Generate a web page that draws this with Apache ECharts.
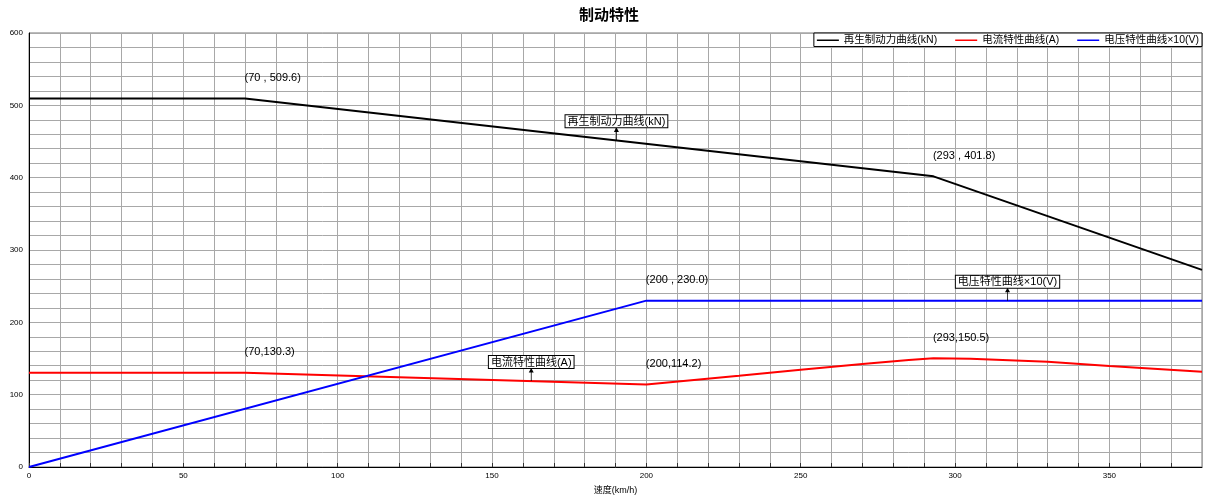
<!DOCTYPE html>
<html><head><meta charset="utf-8">
<script src="https://cdn.jsdelivr.net/npm/echarts@6/dist/echarts.min.js"></script>
<style>html,body{margin:0;padding:0;background:#fff;overflow:hidden}#c{width:1207px;height:499px}</style>
</head><body><div id="c"></div>
<script>
const FONT = '"Liberation Sans", Arial, "Noto Sans CJK SC", sans-serif';
const seriesNames = ['再生制动力曲线(kN)', '电流特性曲线(A)', '电压特性曲线×10(V)'];
const seriesColors = ['#000000', '#ff0000', '#0000ff'];
const forceSpeed = [0, 70, 293, 380];
const forceValue = [509.6, 509.6, 401.8, 272.5];
const currentSpeed = [0, 70, 200, 230, 250, 270, 285, 293, 305, 330, 350, 380];
const currentValue = [130.3, 130.3, 114.2, 126, 134.5, 142.5, 148, 150.5, 149.6, 145.5, 139.6, 131.8];
const voltageSpeed = [0, 200, 380];
const voltageValue = [0, 230, 230];
// point annotations: series index, x, y, text
const annoSeries = [0, 0, 1, 1, 1, 2];
const annoX = [70, 293, 70, 200, 293, 200];
const annoY = [509.6, 401.8, 130.3, 114.2, 150.5, 230.0];
const annoText = ['(70 , 509.6)', '(293 , 401.8)', '(70,130.3)', '(200,114.2)', '(293,150.5)', '(200 , 230.0)'];
// callouts with arrows (anchored on each curve)
const calloutX = [190.3, 162.7, 317];
const calloutY = [451.6, 118.8, 230];
const xTickLabels = [0, 50, 100, 150, 200, 250, 300, 350];
const yTickLabels = [0, 100, 200, 300, 400, 500, 600];

const xs = [forceSpeed, currentSpeed, voltageSpeed];
const ys = [forceValue, currentValue, voltageValue];

function markPointsFor(si) {
  const d = [];
  annoSeries.forEach((s, i) => {
    if (s !== si) return;
    d.push({
      coord: [annoX[i], annoY[i]], symbol: 'circle', symbolSize: 1,
      itemStyle: { color: 'rgba(0,0,0,0)' },
      label: { show: true, formatter: annoText[i], position: [0, -20], align: 'left', verticalAlign: 'middle',
        color: '#000', fontSize: 11, fontFamily: FONT }
    });
  });
  d.push({
    coord: [calloutX[si], calloutY[si]],
    symbol: 'path://M5,0 L9,7 L5.6,7 L5.6,20 L4.4,20 L4.4,7 L1,7 Z',
    symbolSize: [5, 13], symbolOffset: [0, -6.5], symbolKeepAspect: false,
    itemStyle: { color: '#000' },
    label: { show: true, formatter: seriesNames[si], position: 'top', distance: 0,
      color: '#000', fontSize: 11, fontFamily: FONT, backgroundColor: '#fff',
      borderColor: '#000', borderWidth: 1, padding: [1, 2, 0, 2] }
  });
  return { silent: true, animation: false, data: d };
}

const chart = echarts.init(document.getElementById('c'), null, { renderer: 'canvas', width: 1207, height: 499 });
chart.setOption({
  animation: false,
  backgroundColor: '#fff',
  title: { text: '制动特性', left: 574, top: 3,
    textStyle: { fontSize: 15, fontWeight: 'bold', color: '#000', fontFamily: FONT } },
  legend: {
    data: seriesNames, right: 5, top: 33, orient: 'horizontal',
    backgroundColor: '#fff', borderColor: '#000', borderWidth: 1, borderRadius: 0,
    padding: [2, 3, 1, 3], itemGap: 18, itemWidth: 22, itemHeight: 1.5, icon: 'rect',
    textStyle: { fontSize: 10.5, color: '#000', fontFamily: FONT }
  },
  grid: { left: 29, top: 33, width: 1173, height: 434, show: true, borderColor: '#777', borderWidth: 1,
    containLabel: false, outerBoundsMode: 'none' },
  xAxis: {
    type: 'value', min: 0, max: 380, interval: 10,
    name: '速度(km/h)', nameLocation: 'middle', nameGap: 19,
    nameTextStyle: { fontSize: 9, color: '#000', fontFamily: FONT },
    axisLine: { show: true, lineStyle: { color: '#000', width: 1 } },
    axisTick: { show: true, inside: true, length: 4, lineStyle: { color: '#333' } },
    axisLabel: { fontSize: 8, color: '#000', margin: 5, fontFamily: FONT, showMaxLabel: false,
      formatter: v => xTickLabels.includes(v) ? String(v) : '' },
    splitLine: { show: true, lineStyle: { color: '#a8a8a8', width: 1 } }
  },
  yAxis: {
    type: 'value', min: 0, max: 600, interval: 20,
    axisLine: { show: true, lineStyle: { color: '#000', width: 1 } },
    axisTick: { show: false },
    axisLabel: { fontSize: 8, color: '#000', margin: 6, fontFamily: FONT,
      formatter: v => yTickLabels.includes(v) ? String(v) : '' },
    splitLine: { show: true, lineStyle: { color: '#a8a8a8', width: 1 } }
  },
  series: seriesNames.map((n, si) => ({
    name: n, type: 'line', symbol: 'none', smooth: false,
    data: xs[si].map((x, i) => [x, ys[si][i]]),
    lineStyle: { color: seriesColors[si], width: 2 },
    itemStyle: { color: seriesColors[si] },
    markPoint: markPointsFor(si)
  }))
});
</script></body></html>
